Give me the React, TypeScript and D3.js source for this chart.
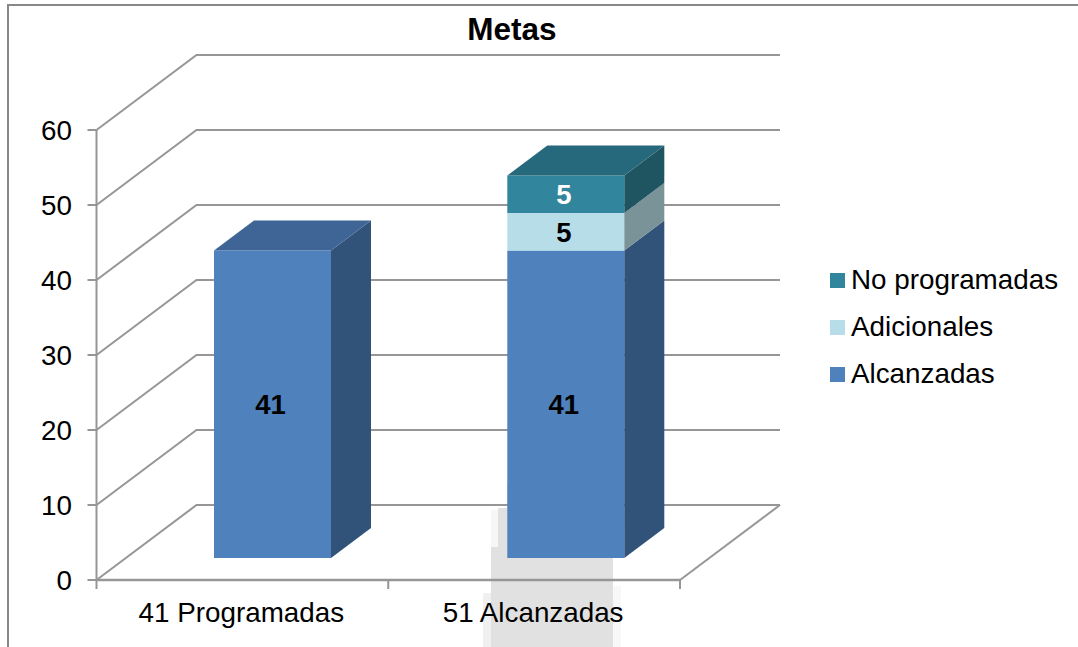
import React from "react";
import * as d3 from "d3";

const title = "Metas";
const categories = ["41 Programadas", "51 Alcanzadas"];
const seriesNames = ["Alcanzadas", "Adicionales", "No programadas"];
const alcanzadas = [41, 41];
const adicionales = [0, 5];
const noProgramadas = [0, 5];
const yTicks = [0, 10, 20, 30, 40, 50, 60];
const frontColors = ["#4F81BD", "#B7DEE8", "#31859C"];
const topColors = ["#3F6597", "#92B2BA", "#27697C"];
const sideColors = ["#325379", "#7A9399", "#1F5561"];
const labelColors = ["#000", "#000", "#fff"];

const FONT = "'Liberation Sans', Arial, sans-serif";
const GRID = "#969696";

export default function App() {
  const y = d3.scaleLinear().domain([0, 60]).range([580, 130]);
  const x = d3.scaleBand<string>().domain(categories).range([96.5, 680]).paddingInner(0).paddingOuter(0);
  const barX = d3.scalePoint<string>().domain(categories).range([214, 507.3]);
  const depth = d3.scaleLinear().domain([0, 1]).range([0, 100]);
  const depthY = d3.scaleLinear().domain([0, 1]).range([0, -75]);
  const dx = depth(1), dy = depthY(1);
  const barW = 117;
  const barDy = depthY(0.3) + 0.5;
  const bdx = depth(0.4), bdy = depthY(0.4);
  const seriesValues = [alcanzadas, adicionales, noProgramadas];
  const poly = (pts: number[][]) => pts.map(p => p.join(",")).join(" ");
  const x0 = x.range()[0], x1 = x.range()[1];

  return (
    <svg width={1078} height={647} style={{ position: "absolute", left: 0, top: 0, background: "#fff" }}>
      <path d="M8 647V5H1078" fill="none" stroke="#888" strokeWidth={2} />
      <text x={512} y={40} textAnchor="middle" fontFamily={FONT} fontWeight="bold" fontSize={31.5} fill="#000">{title}</text>

      {/* watermark patch */}
      <path d="M483 647V593H491V647Z" fill="#f0f0f0" />
      <path d="M491 547H498V510H491Z" fill="#f6f6f6" />
      <path d="M613 586H621V647H613Z" fill="#f8f8f8" />
      <path d="M491 647V547H498V508H507V485H613V647Z" fill="#e1e1e1" />

      {/* back wall and side wall grid */}
      {yTicks.map(t => (
        <g key={t}>
          <path d={`M${x0} ${y(t)}L${x0 + dx} ${y(t) + dy}H${x1 + dx}`} fill="none" stroke={GRID} strokeWidth={2} />
          <line x1={x0 - 9} x2={x0} y1={y(t)} y2={y(t)} stroke={GRID} strokeWidth={2} />
          <text x={72} y={y(t) + 10} textAnchor="end" fontFamily={FONT} fontSize={27.8} fill="#000">{t}</text>
        </g>
      ))}
      <path d={`M${x1} ${y(0)}L${x1 + dx} ${y(0) + dy}`} stroke={GRID} strokeWidth={2} fill="none" />

      {/* floor front edge and axes */}
      <line x1={x0} x2={x1} y1={y(0)} y2={y(0)} stroke={GRID} strokeWidth={2.5} />
      <line x1={x0} x2={x0} y1={y(60)} y2={y(0)} stroke={GRID} strokeWidth={2} />
      {[x0, x0 + x.bandwidth(), x1].map((v, i) => (
        <line key={i} x1={v} x2={v} y1={y(0)} y2={y(0) + 9} stroke={GRID} strokeWidth={2} />
      ))}

      {/* bars */}
      {categories.map((c, ci) => {
        const left = barX(c)!;
        let cum = 0;
        const base = y(0) + barDy;
        const segs = seriesValues.map((vals, si) => {
          const v = vals[ci];
          const a = base - (y(0) - y(cum));
          const b = base - (y(0) - y(cum + v));
          cum += v;
          return { v, a, b, si };
        }).filter(s => s.v > 0);
        const last = segs[segs.length - 1];
        return (
          <g key={c}>
            {segs.map(s => (
              <g key={s.si}>
                <rect x={left} y={s.b} width={barW} height={s.a - s.b} fill={frontColors[s.si]} />
                <polygon points={poly([[left + barW, s.a], [left + barW + bdx, s.a + bdy], [left + barW + bdx, s.b + bdy], [left + barW, s.b]])} fill={sideColors[s.si]} />
              </g>
            ))}
            <polygon points={poly([[left, last.b], [left + bdx, last.b + bdy], [left + barW + bdx, last.b + bdy], [left + barW, last.b]])} fill={topColors[last.si]} />
            {segs.map(s => (
              <text key={s.si} x={left + barW / 2 - 2} y={(s.a + s.b) / 2 + 10} textAnchor="middle" fontFamily={FONT} fontWeight="bold" fontSize={27.5} fill={labelColors[s.si]}>{s.v}</text>
            ))}
          </g>
        );
      })}

      {categories.map(c => (
        <text key={c} x={x(c)! + x.bandwidth() / 2 - 1} y={622} textAnchor="middle" fontFamily={FONT} fontSize={27.8} fill="#000">{c}</text>
      ))}

      {/* legend */}
      {[2, 1, 0].map((si, i) => (
        <g key={si}>
          <rect x={830} y={273 + i * 47} width={15} height={15} fill={frontColors[si]} />
          <text x={851} y={289 + i * 47} fontFamily={FONT} fontSize={27.8} fill="#000">{seriesNames[si]}</text>
        </g>
      ))}
    </svg>
  );
}
